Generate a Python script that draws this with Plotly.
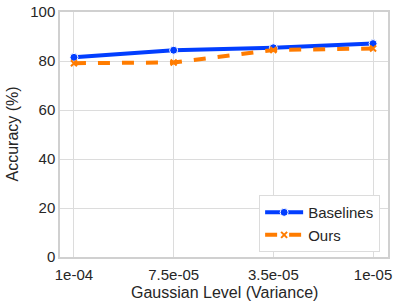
import plotly.graph_objects as go

levels = ["1e-04", "7.5e-05", "3.5e-05", "1e-05"]
baselines = [81.5, 84.4, 85.4, 87.1]
ours = [79.1, 79.4, 84.5, 85.1]
y_ticks = [0, 20, 40, 60, 80, 100]
x_title = "Gaussian Level (Variance)"
y_title = "Accuracy (%)"

blue = "#023eff"
orange = "#ff7c00"
font = "Liberation Sans, Arial, sans-serif"

fig = go.Figure()
fig.add_trace(go.Scatter(
    x=levels, y=baselines, name="Baselines", mode="lines+markers",
    line=dict(color=blue, width=4),
    marker=dict(symbol="circle", size=8, color=blue, line=dict(color="white", width=1)),
))
fig.add_trace(go.Scatter(
    x=levels, y=ours, name="Ours", mode="lines+markers",
    line=dict(color=orange, width=4, dash="dash"),
    marker=dict(symbol="x-thin", size=6, color=orange, line=dict(color=orange, width=2)),
))

fig.update_layout(
    width=399, height=306,
    margin=dict(l=60, r=11, t=12, b=49),
    paper_bgcolor="white", plot_bgcolor="white",
    font=dict(family=font, size=15, color="#262626"),
    xaxis=dict(
        type="category", range=[-0.14, 3.15], automargin=False,
        showgrid=True, gridcolor="#dcdcdc", gridwidth=1.2,
        showline=True, linecolor="#d0d0d0", linewidth=1.5, mirror=True,
        ticks="", tickfont=dict(size=15), ticklabelstandoff=3,
    ),
    yaxis=dict(
        range=[0, 100], tickvals=y_ticks, automargin=False,
        showgrid=True, gridcolor="#dcdcdc", gridwidth=1.2,
        showline=True, linecolor="#d0d0d0", linewidth=1.5, mirror=True,
        zeroline=False, ticks="", tickfont=dict(size=15),
        ticklabeloverflow="allow",
    ),
    legend=dict(
        x=0.976, y=0.02, xanchor="right", yanchor="bottom",
        bgcolor="white", bordercolor="#dcdcdc", borderwidth=1,
        font=dict(size=15), itemwidth=38,
    ),
    annotations=[
        dict(text=x_title, xref="paper", yref="paper", x=0.5, y=0,
             xanchor="center", yanchor="middle", yshift=-35,
             showarrow=False, font=dict(size=16)),
        dict(text=y_title, xref="paper", yref="paper", x=0, y=0.5,
             xanchor="center", yanchor="middle", xshift=-48, textangle=-90,
             showarrow=False, font=dict(size=16)),
    ],
)

# remove the browser's default 8px body margin so the figure fills the window
fig.write_html("out.html", config={"displayModeBar": False},
               post_script="document.body.style.margin='0';")
